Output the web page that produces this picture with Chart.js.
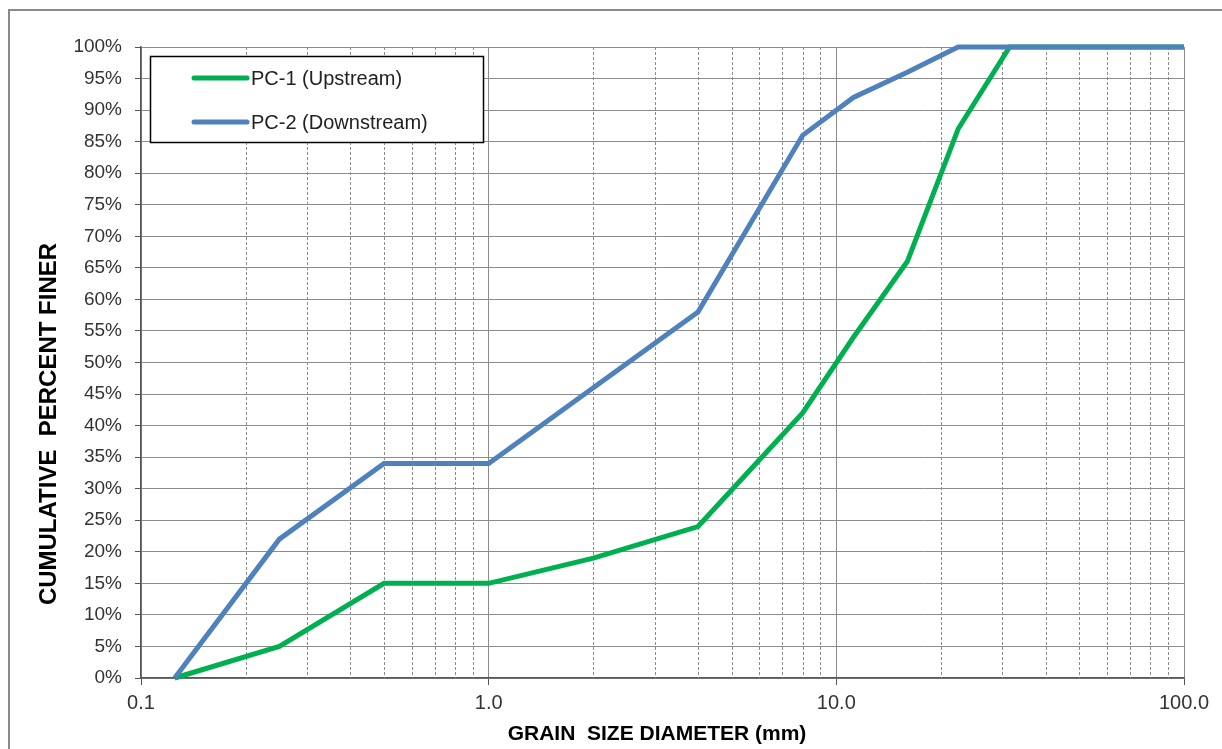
<!DOCTYPE html>
<html>
<head>
<meta charset="utf-8">
<title>Grain Size Distribution</title>
<script src="https://cdn.jsdelivr.net/npm/chart.js@4.4.1/dist/chart.umd.min.js"></script>
<style>
  html, body { margin: 0; padding: 0; background: #ffffff; }
  #wrap { position: relative; width: 1222px; height: 749px; }
  canvas { display: block; }
</style>
</head>
<body>
<div id="wrap"><canvas id="gsd" width="1222" height="749"></canvas></div>
<script>
// Sieve openings (mm) and cumulative percent passing for each sample
const sieveSizes   = [0.125, 0.25, 0.5, 1.0, 2.0, 4.0, 8.0, 11.2, 16.0, 22.4, 31.5, 100.0];
const pc1Upstream   = [0, 5, 15, 15, 19, 24, 42, 54, 66, 87, 100, 100];
const pc2Downstream = [0, 22, 34, 34, 46, 58, 86, 92, 96, 100, 100, 100];

const seriesLabels = ['PC-1 (Upstream)', 'PC-2 (Downstream)'];
const seriesColors = ['#00B050', '#4F81BD'];

// Axis ticks: labelled decades and the dashed in-between lines
const xMajorTicks = [0.1, 1, 10, 100];
const xMinorTicks = [0.2, 0.3, 0.4, 0.5, 0.6, 0.7, 0.8, 0.9,
                     2, 3, 4, 5, 6, 7, 8, 9,
                     20, 30, 40, 50, 60, 70, 80, 90];
const yTickValues = [0, 5, 10, 15, 20, 25, 30, 35, 40, 45, 50, 55, 60, 65, 70, 75, 80, 85, 90, 95, 100];

const xTitle = 'GRAIN  SIZE DIAMETER (mm)';
const yTitle = 'CUMULATIVE  PERCENT FINER';

const FONT = "'Liberation Sans', Arial, sans-serif";

const toPoints = (vals) => sieveSizes.map((s, i) => ({ x: s, y: vals[i] }));

// Outer frame, dashed minor grid, axis titles and the boxed legend
const decorPlugin = {
  id: 'decor',
  beforeDraw(chart) {
    const ctx = chart.ctx;
    ctx.save();
    ctx.strokeStyle = '#8a8a8a';
    ctx.lineWidth = 2;
    ctx.beginPath();
    ctx.moveTo(9, 760);
    ctx.lineTo(9, 10);
    ctx.lineTo(1230, 10);
    ctx.stroke();
    ctx.restore();
  },
  beforeDatasetsDraw(chart) {
    const ctx = chart.ctx;
    const xs = chart.scales.x;
    const area = chart.chartArea;
    ctx.save();
    ctx.strokeStyle = '#8c8c8c';
    ctx.lineWidth = 1;
    ctx.setLineDash([3, 2]);
    xMinorTicks.forEach(v => {
      const px = Math.round(xs.getPixelForValue(v)) + 0.5;
      ctx.beginPath();
      ctx.moveTo(px, area.top);
      ctx.lineTo(px, area.bottom);
      ctx.stroke();
    });
    ctx.restore();
  },
  afterDraw(chart) {
    const ctx = chart.ctx;
    ctx.save();
    // axis titles
    ctx.fillStyle = '#000000';
    ctx.font = 'bold 21px ' + FONT;
    ctx.textAlign = 'center';
    ctx.textBaseline = 'middle';
    ctx.fillText(xTitle, 657, 734);
    ctx.save();
    ctx.translate(49, 424);
    ctx.rotate(-Math.PI / 2);
    ctx.font = 'bold 24px ' + FONT;
    ctx.fillText(yTitle, 0, 0);
    ctx.restore();

    // legend, listed in dataset order
    const bx = 150.5, by = 56.5, bw = 333, bh = 86;
    ctx.fillStyle = '#ffffff';
    ctx.fillRect(bx, by, bw, bh);
    ctx.strokeStyle = '#000000';
    ctx.lineWidth = 1.5;
    ctx.strokeRect(bx, by, bw, bh);
    ctx.font = '20px ' + FONT;
    ctx.textAlign = 'left';
    ctx.textBaseline = 'middle';
    chart.data.datasets.forEach((ds, i) => {
      const ly = 78 + i * 44;
      ctx.strokeStyle = ds.borderColor;
      ctx.lineWidth = 5;
      ctx.lineCap = 'round';
      ctx.beginPath();
      ctx.moveTo(194, ly);
      ctx.lineTo(247, ly);
      ctx.stroke();
      ctx.fillStyle = '#222222';
      ctx.fillText(ds.label, 251, ly + 1);
    });
    ctx.restore();
  }
};

new Chart(document.getElementById('gsd'), {
  type: 'line',
  data: {
    datasets: [
      {
        label: seriesLabels[0],
        data: toPoints(pc1Upstream),
        borderColor: seriesColors[0],
        backgroundColor: seriesColors[0],
        borderWidth: 5,
        pointRadius: 0,
        tension: 0,
        fill: false,
        clip: 4,
        order: 1
      },
      {
        label: seriesLabels[1],
        data: toPoints(pc2Downstream),
        borderColor: seriesColors[1],
        backgroundColor: seriesColors[1],
        borderWidth: 5,
        pointRadius: 0,
        tension: 0,
        fill: false,
        clip: 4,
        order: 0
      }
    ]
  },
  options: {
    responsive: false,
    animation: false,
    devicePixelRatio: 1,
    layout: { padding: { top: 47, right: 38, left: 0, bottom: 0 } },
    plugins: {
      legend: { display: false },
      tooltip: { enabled: false },
      title: { display: false }
    },
    scales: {
      x: {
        type: 'logarithmic',
        position: 'bottom',
        min: 0.1,
        max: 100,
        afterBuildTicks(scale) {
          scale.ticks = xMajorTicks.map(v => ({ value: v }));
        },
        afterFit(scale) { scale.height = 71; },
        ticks: {
          autoSkip: false,
          maxRotation: 0,
          minRotation: 0,
          padding: 6,
          color: '#333333',
          font: { family: FONT, size: 20 },
          callback: (v) => Number(v).toFixed(1)
        },
        grid: {
          color: '#8c8c8c',
          lineWidth: 1,
          tickLength: 7,
          tickColor: '#555555'
        },
        border: { display: true, color: '#555555', width: 1.5 }
      },
      y: {
        type: 'linear',
        min: 0,
        max: 100,
        afterBuildTicks(scale) {
          scale.ticks = yTickValues.map(v => ({ value: v }));
        },
        afterFit(scale) { scale.width = 141; },
        ticks: {
          autoSkip: false,
          padding: 13,
          color: '#333333',
          font: { family: FONT, size: 19 },
          callback: (v) => v + '%'
        },
        grid: {
          color: '#8c8c8c',
          lineWidth: 1,
          tickLength: 6,
          tickColor: '#555555'
        },
        border: { display: true, color: '#555555', width: 1.5 }
      }
    }
  },
  plugins: [decorPlugin]
});
</script>
</body>
</html>
